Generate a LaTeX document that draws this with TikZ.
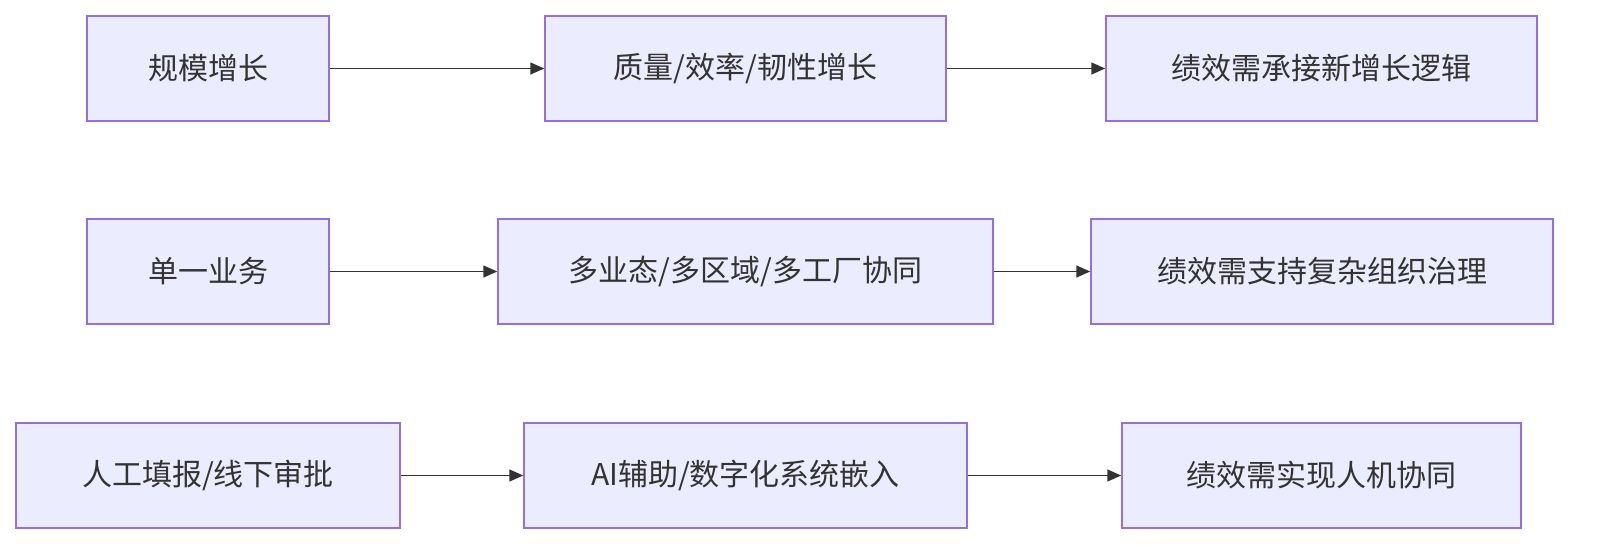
\documentclass[tikz,border=0pt]{standalone}
\usepackage{fontspec}
\setmainfont{Noto Sans CJK SC}
\usetikzlibrary{arrows.meta}
\definecolor{boxfill}{HTML}{ECECFF}
\definecolor{boxline}{HTML}{9370DB}
\definecolor{arr}{HTML}{333333}
\begin{document}
\begin{tikzpicture}[x=1pt,y=-1pt,
  box/.style={draw=boxline,fill=boxfill,line width=1.5pt,inner sep=0pt,font=\fontsize{30}{36}\selectfont,text=arr},
  conn/.style={draw=arr,line width=1.5pt,-{Triangle[length=14pt,width=12pt]}}]
\useasboundingbox (0,0) rectangle (1602,556);
\newcommand{\bx}[6]{\node[box,minimum width=#3-#2,minimum height=105] (#1) at ({(#2+#3)/2},#4) {#5};}
\bx{a1}{87}{329}{68.5}{规模增长}{}
\bx{b1}{545}{946}{68.5}{质量/效率/韧性增长}{}
\bx{c1}{1106}{1537}{68.5}{绩效需承接新增长逻辑}{}
\bx{a2}{87}{329}{271.5}{单一业务}{}
\bx{b2}{498}{993}{271.5}{多业态/多区域/多工厂协同}{}
\bx{c2}{1091}{1553}{271.5}{绩效需支持复杂组织治理}{}
\bx{a3}{16}{400}{475.5}{人工填报/线下审批}{}
\bx{b3}{524}{967}{475.5}{AI辅助/数字化系统嵌入}{}
\bx{c3}{1122}{1521}{475.5}{绩效需实现人机协同}{}
\draw[conn] (a1) -- (b1); \draw[conn] (b1) -- (c1);
\draw[conn] (a2) -- (b2); \draw[conn] (b2) -- (c2);
\draw[conn] (a3) -- (b3); \draw[conn] (b3) -- (c3);
\end{tikzpicture}
\end{document}
